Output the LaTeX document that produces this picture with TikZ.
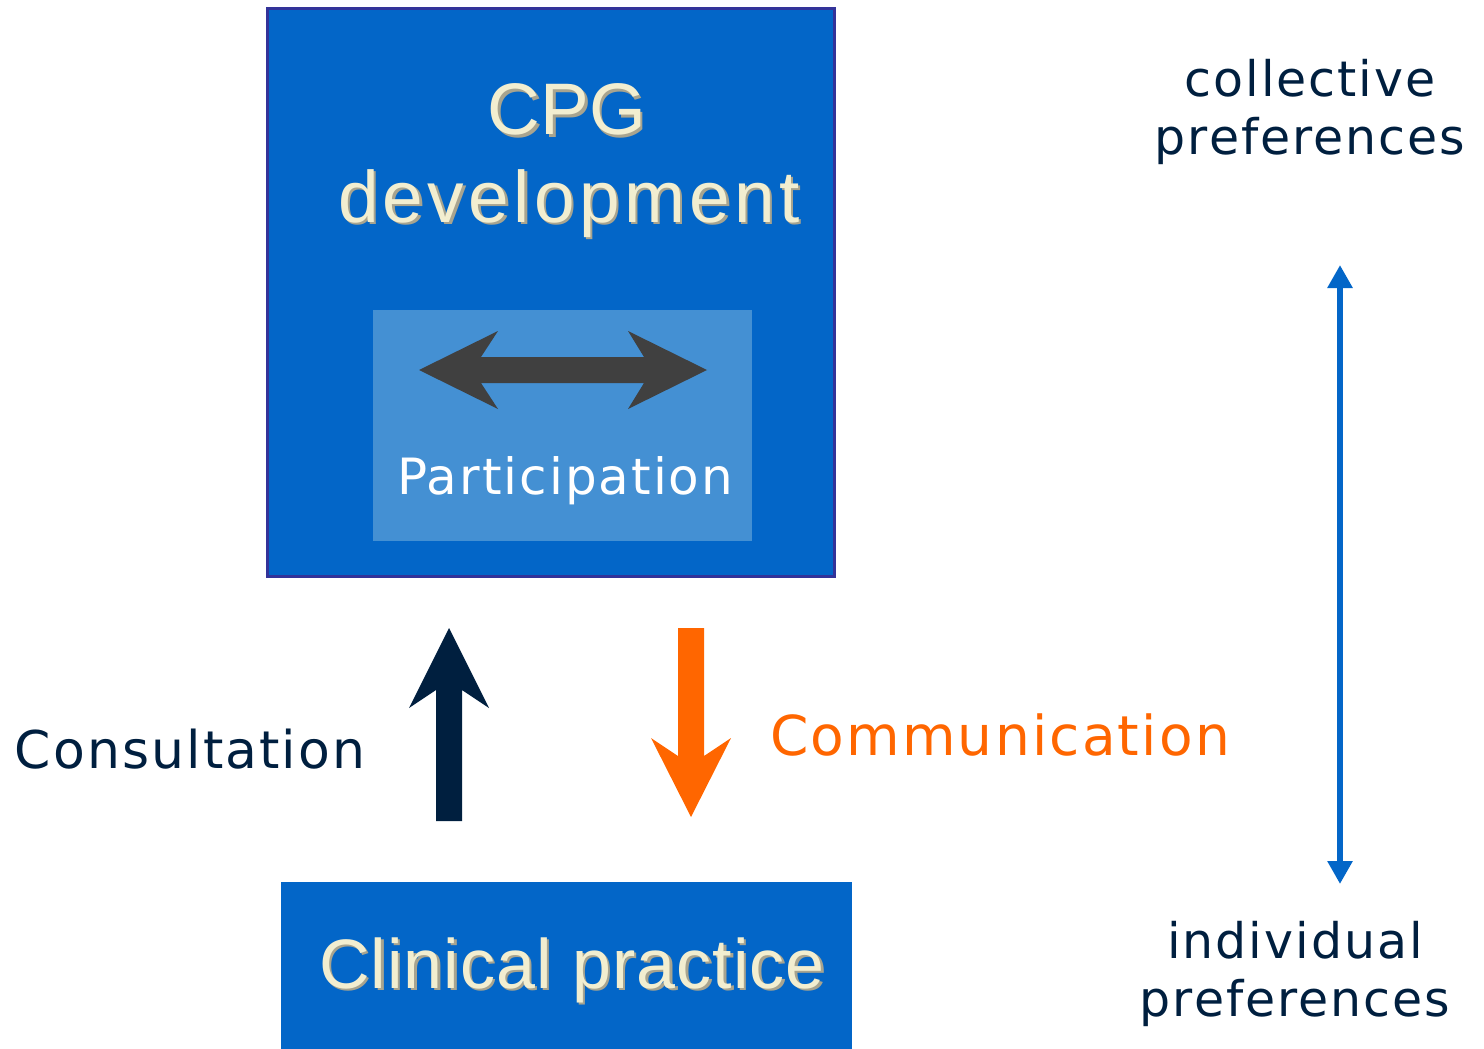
\documentclass[tikz,border=0pt]{standalone}
\usepackage{fontspec}
\setmainfont{Liberation Sans}
\newfontfamily\bodyfont[LetterSpace=4]{DejaVu Sans}
\newfontfamily\titlefont[LetterSpace=6]{Liberation Sans}
\newfontfamily\cpgfont{Liberation Sans}
\newfontfamily\clinfont[LetterSpace=1.5]{Liberation Sans}
\usetikzlibrary{arrows.meta}
\definecolor{mainblue}{HTML}{0366C8}
\definecolor{boxborder}{HTML}{333399}
\definecolor{innerblue}{HTML}{4490D3}
\definecolor{creamc}{HTML}{F2EED0}
\definecolor{shadowc}{HTML}{A8A48F}
\definecolor{navyc}{HTML}{001F3F}
\definecolor{orangec}{HTML}{FF6600}
\definecolor{arrowgray}{HTML}{404040}
\newcommand\shtext[1]{\makebox[0pt][l]{\hspace{2.5pt}\raisebox{-2.5pt}{\textcolor{shadowc}{#1}}}#1}
\tikzset{
  txt/.style={inner sep=0pt, outer sep=0pt},
  bodytxt/.style={txt, font=\bodyfont\fontsize{#1}{58}\selectfont},
  titletxt/.style={txt, text=creamc, font=\titlefont\fontsize{73}{86}\selectfont},
}
\begin{document}
\begin{tikzpicture}[x=1pt, y=-1pt]
\useasboundingbox (0,0) rectangle (1484,1049);
\clip (0,0) rectangle (1484,1049);
% CPG development box
\node[draw=boxborder, line width=3pt, fill=mainblue, minimum width=567pt, minimum height=568pt, inner sep=0pt] (cpgbox) at (551,292.5) {};
\node[txt, text=creamc, font=\cpgfont\fontsize{73}{86}\selectfont, anchor=base] (cpg) at (567,135) {\shtext{CPG}};
\node[titletxt, anchor=base] (dev) at (569,222) {\shtext{development}};
% participation box
\node[fill=innerblue, minimum width=379pt, minimum height=231pt, inner sep=0pt] (partbox) at (562.5,425.5) {};
\fill[arrowgray] (419,370) -- (498,331) -- (481,357) -- (644,357) -- (628,331) -- (707,370)
  -- (628,409) -- (644,383) -- (481,383) -- (498,409) -- cycle;
\node[bodytxt=50, text=white, anchor=base west] (part) at (397,494) {Participation};
% arrows between boxes
\fill[navyc] (436,821) -- (436,690) -- (409,708) -- (449,628) -- (489,708) -- (462,690) -- (462,821) -- cycle;
\fill[orangec] (678,628) -- (704,628) -- (704,756) -- (731,738) -- (691,817) -- (651,738) -- (678,756) -- cycle;
\node[bodytxt=52, text=navyc, anchor=base west] (cons) at (15,768) {Consultation};
\node[bodytxt=55, text=orangec, anchor=base west] (comm) at (770,755) {Communication};
% clinical practice
\node[fill=mainblue, minimum width=571pt, minimum height=167pt, inner sep=0pt] (clinbox) at (566.5,965.5) {};
\node[txt, text=creamc, font=\clinfont\fontsize{70}{84}\selectfont, anchor=base] (clin) at (572,988) {\shtext{Clinical practice}};
% right side scale
\node[bodytxt=49, text=navyc, align=center, anchor=base] (coll) at (1310,154) {collective\\preferences};
\node[bodytxt=49, text=navyc, align=center, anchor=base] (indiv) at (1295,1016) {individual\\preferences};
\coordinate (rtop) at (1340,265);
\coordinate (rbot) at (1340,884);
\draw[mainblue, line width=6pt, {Triangle[width=24pt,length=23pt]}-{Triangle[width=24pt,length=23pt]}] (rtop) -- (rbot);
\end{tikzpicture}
\end{document}
